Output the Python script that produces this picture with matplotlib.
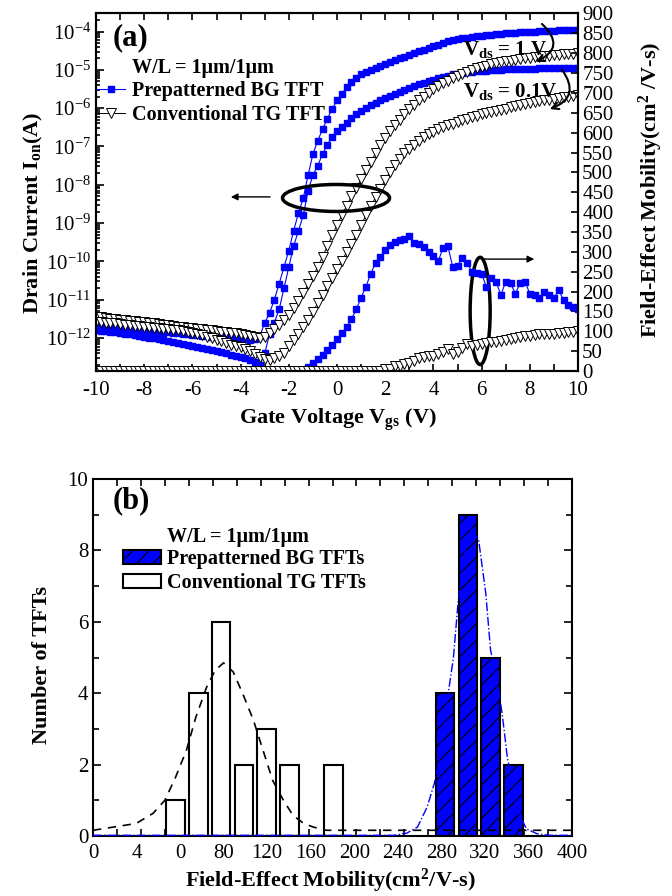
import matplotlib
matplotlib.use("Agg")
import numpy as np
import matplotlib.pyplot as plt
from matplotlib.patches import Ellipse, FancyArrowPatch, Patch
from matplotlib.lines import Line2D
from matplotlib.ticker import MultipleLocator, LogLocator, NullFormatter, FixedLocator

plt.rcParams["font.family"] = ["Liberation Serif", "DejaVu Serif"]
plt.rcParams["mathtext.fontset"] = "custom"
plt.rcParams["mathtext.rm"] = "Liberation Serif"
plt.rcParams["mathtext.bf"] = "Liberation Serif:bold"
plt.rcParams["mathtext.it"] = "Liberation Serif:italic"
plt.rcParams["axes.unicode_minus"] = False
plt.rcParams["hatch.linewidth"] = 0.8
plt.rcParams["hatch.color"] = "black"

# ---------------- panel (a): transfer curves ----------------
vgs = [-10.0, -9.8, -9.6, -9.4, -9.2, -9.0, -8.8, -8.6, -8.4, -8.2,
       -8.0, -7.8, -7.6, -7.4, -7.2, -7.0, -6.8, -6.6, -6.4, -6.2,
       -6.0, -5.8, -5.6, -5.4, -5.2, -5.0, -4.8, -4.6, -4.4, -4.2,
       -4.0, -3.8, -3.6, -3.4, -3.2, -3.0, -2.8, -2.6, -2.4, -2.2,
       -2.0, -1.8, -1.6, -1.4, -1.2, -1.0, -0.8, -0.6, -0.4, -0.2,
       0.0, 0.2, 0.4, 0.6, 0.8, 1.0, 1.2, 1.4, 1.6, 1.8,
       2.0, 2.2, 2.4, 2.6, 2.8, 3.0, 3.2, 3.4, 3.6, 3.8,
       4.0, 4.2, 4.4, 4.6, 4.8, 5.0, 5.2, 5.4, 5.6, 5.8,
       6.0, 6.2, 6.4, 6.6, 6.8, 7.0, 7.2, 7.4, 7.6, 7.8,
       8.0, 8.2, 8.4, 8.6, 8.8, 9.0, 9.2, 9.4, 9.6, 9.8,
       10.0]

# log10 of drain current (A)
bg_vds1 = [-11.72, -11.70, -11.74, -11.73, -11.76, -11.75, -11.78, -11.77, -11.80, -11.79,
           -11.82, -11.81, -11.84, -11.83, -11.86, -11.85, -11.88, -11.87, -11.90, -11.89,
           -11.92, -11.91, -11.94, -11.93, -11.96, -11.95, -11.98, -11.97, -12.00, -11.99,
           -12.02, -12.01, -12.04, -12.03, -11.95, -11.60, -11.35, -11.00, -10.58, -10.15,
           -9.72, -9.20, -8.74, -8.35, -7.75, -7.20, -6.85, -6.55, -6.28, -6.02,
           -5.80, -5.62, -5.46, -5.33, -5.21, -5.12, -5.06, -5.00, -4.96, -4.91,
           -4.86, -4.80, -4.75, -4.70, -4.66, -4.61, -4.56, -4.51, -4.47, -4.42,
           -4.38, -4.34, -4.30, -4.26, -4.23, -4.20, -4.18, -4.16, -4.14, -4.12,
           -4.11, -4.09, -4.08, -4.07, -4.06, -4.05, -4.04, -4.03, -4.02, -4.01,
           -4.00, -4.00, -3.99, -3.99, -3.98, -3.98, -3.97, -3.97, -3.97, -3.96,
           -3.96]
bg_vds01 = [-11.80, -11.82, -11.81, -11.85, -11.84, -11.88, -11.90, -11.89, -11.93, -11.95,
            -11.96, -11.99, -12.01, -12.03, -12.06, -12.08, -12.10, -12.13, -12.15, -12.18,
            -12.21, -12.23, -12.26, -12.28, -12.31, -12.34, -12.37, -12.40, -12.43, -12.46,
            -12.50, -12.53, -12.56, -12.62, -12.70, -12.40, -11.90, -11.60, -11.25, -10.70,
            -10.15, -9.60, -9.20, -8.80, -8.15, -7.75, -7.50, -7.20, -6.95, -6.75,
            -6.60, -6.50, -6.38, -6.26, -6.16, -6.07, -5.99, -5.92, -5.86, -5.80,
            -5.74, -5.68, -5.63, -5.58, -5.53, -5.48, -5.43, -5.38, -5.34, -5.30,
            -5.26, -5.22, -5.18, -5.15, -5.12, -5.10, -5.08, -5.06, -5.05, -5.04,
            -5.03, -5.02, -5.01, -5.00, -5.00, -4.99, -4.99, -4.98, -4.98, -4.97,
            -4.97, -4.97, -4.96, -4.96, -4.96, -4.96, -4.96, -4.95, -4.95, -4.95,
            -4.95]
tg_vds1 = [-11.44, -11.46, -11.47, -11.49, -11.50, -11.52, -11.53, -11.55, -11.56, -11.58,
           -11.59, -11.61, -11.62, -11.64, -11.65, -11.67, -11.68, -11.70, -11.71, -11.73,
           -11.74, -11.76, -11.77, -11.79, -11.80, -11.82, -11.83, -11.85, -11.86, -11.88,
           -11.90, -11.92, -11.94, -11.96, -12.00, -11.98, -11.88, -11.76, -11.66, -11.52,
           -11.39, -11.22, -11.03, -10.83, -10.60, -10.38, -10.15, -9.88, -9.60, -9.32,
           -9.05, -8.80, -8.55, -8.30, -8.08, -7.85, -7.62, -7.40, -7.18, -6.97,
           -6.78, -6.60, -6.45, -6.30, -6.16, -6.03, -5.91, -5.80, -5.70, -5.60,
           -5.51, -5.43, -5.35, -5.28, -5.21, -5.15, -5.10, -5.05, -5.00, -4.96,
           -4.92, -4.89, -4.86, -4.83, -4.80, -4.78, -4.76, -4.74, -4.72, -4.70,
           -4.69, -4.67, -4.66, -4.65, -4.64, -4.62, -4.61, -4.60, -4.59, -4.58,
           -4.57]
tg_vds01 = [-11.57, -11.58, -11.60, -11.61, -11.62, -11.64, -11.65, -11.66, -11.68, -11.69,
            -11.70, -11.72, -11.73, -11.74, -11.76, -11.77, -11.78, -11.80, -11.81, -11.83,
            -11.86, -11.89, -11.93, -11.96, -12.00, -12.05, -12.09, -12.13, -12.17, -12.20,
            -12.23, -12.29, -12.35, -12.42, -12.50, -12.55, -12.57, -12.53, -12.46, -12.38,
            -12.22, -12.06, -11.90, -11.72, -11.52, -11.31, -11.09, -10.87, -10.65, -10.43,
            -10.20, -9.98, -9.76, -9.54, -9.30, -9.05, -8.80, -8.56, -8.33, -8.10,
            -7.87, -7.66, -7.48, -7.32, -7.18, -7.06, -6.95, -6.85, -6.76, -6.68,
            -6.61, -6.55, -6.50, -6.45, -6.41, -6.36, -6.32, -6.28, -6.24, -6.20,
            -6.16, -6.13, -6.10, -6.07, -6.04, -6.01, -5.98, -5.95, -5.93, -5.90,
            -5.87, -5.85, -5.82, -5.80, -5.78, -5.76, -5.74, -5.72, -5.70, -5.68,
            -5.66]

# field-effect mobility (cm^2/V-s)
mu_bg = [2, 1, 2, 1, 2, 1, 2, 1, 2, 1,
         2, 1, 2, 1, 2, 1, 2, 1, 2, 1,
         2, 1, 2, 1, 2, 1, 2, 1, 2, 1,
         2, 1, 2, 1, 2, 1, 2, 1, 2, 1,
         2, 1, 2, 3, 10, 20, 29, 40, 52, 65,
         80, 95, 110, 131, 155, 185, 212, 245, 272, 287,
         305, 318, 325, 329, 333, 340, 323, 320, 312, 300,
         290, 276, 310, 314, 263, 265, 284, 272, 250, 246,
         244, 212, 234, 225, 191, 225, 221, 195, 221, 225,
         195, 191, 183, 199, 191, 183, 204, 178, 166, 160,
         155]
mu_tg = [0, 1, 0, 1, 0, 1, 0, 1, 0, 1,
         0, 1, 0, 1, 0, 1, 0, 1, 0, 1,
         0, 1, 0, 1, 0, 1, 0, 1, 0, 1,
         0, 1, 0, 1, 0, 1, 0, 1, 0, 1,
         0, 1, 0, 1, 0, 1, 0, 1, 0, 1,
         0, 1, 0, 1, 0, 1, 0, 1, 0, 1,
         6, 4, 12, 13, 17, 21, 24, 33, 34, 38,
         38, 42, 48, 55, 44, 47, 59, 68, 64, 66,
         68, 70, 72, 74, 76, 78, 81, 83, 85, 87,
         89, 91, 92, 93, 93, 94, 95, 96, 98, 99,
         100]

current_decades = [1e-12, 1e-11, 1e-10, 1e-9, 1e-8, 1e-7, 1e-6, 1e-5, 1e-4]

# ---------------- panel (b): histogram ----------------
tg_bins = [69, 88, 107, 126, 145, 164, 201]
tg_counts = [1, 4, 6, 2, 3, 2, 2]
bg_bins = [294, 313, 332, 351]
bg_counts = [4, 9, 5, 2]

tg_fit_x = [0, 36, 50, 60, 69, 78, 86, 95, 102, 109, 117, 125, 134, 142,
            150, 159, 167, 176, 184, 195, 400]
tg_fit_y = [0.16, 0.35, 0.63, 1.0, 1.65, 2.4, 3.34, 4.18, 4.64, 4.85, 4.6, 3.99, 3.24, 2.4,
            1.56, 1.0, 0.58, 0.35, 0.25, 0.16, 0.16]
bg_fit_x = [0, 100, 191, 238, 251, 262, 271, 279, 285, 289, 293, 297, 301, 305,
            311, 316, 322, 328, 332, 338, 342, 346, 352, 357, 362, 371, 381, 400]
bg_fit_y = [0.02, 0.02, 0.02, 0.02, 0.02, 0.08, 0.25, 0.81, 1.47, 2.1, 3.05, 4.08, 5.0, 6.6,
            8.0, 8.6, 8.3, 6.8, 5.2, 4.27, 3.34, 2.2, 1.19, 0.53, 0.2, 0.06, 0.02, 0.02]

mob_tick_labels = ["0", "4", "0", "80", "120", "160", "200", "240", "280", "320", "360", "400"]

BLUE = "#0000ff"
W, H = 672, 896

fig = plt.figure(figsize=(6.72, 8.96), dpi=100)


def fx(px):
    return px / W


def fy(py):
    return 1 - py / H


# ---- top panel ----
ax1 = fig.add_axes([fx(96), fy(371), fx(578) - fx(96), fy(13.5) - fy(371)])
ax1.set_yscale("log")
for series in (bg_vds1, bg_vds01):
    ax1.plot(vgs, 10 ** np.array(series), color=BLUE, marker="s", ms=5, mec=BLUE, lw=0.8)
for series in (tg_vds1, tg_vds01):
    ax1.plot(vgs, 10 ** np.array(series), color="black", marker="v", ms=6.5,
             mfc="white", mec="black", mew=0.7, lw=0.7)
ax1.set_xlim(-10, 10)
ax1.set_ylim(10 ** -12.86, 10 ** -3.53)
ax1.xaxis.set_major_locator(MultipleLocator(2))
ax1.xaxis.set_minor_locator(MultipleLocator(1))
ax1.yaxis.set_major_locator(FixedLocator(current_decades))
ax1.yaxis.set_minor_locator(LogLocator(base=10, subs=np.arange(2, 10) * 1.0, numticks=20))
ax1.yaxis.set_minor_formatter(NullFormatter())
ax1.tick_params(which="both", direction="in", top=True, right=False, labelsize=15, width=1.2)
ax1.tick_params(axis="x", which="both", length=5, pad=7)
ax1.tick_params(axis="y", which="major", length=6)
ax1.tick_params(axis="y", which="minor", length=3)

ax2 = ax1.twinx()
ax2.plot(vgs, mu_bg, color=BLUE, marker="s", ms=5, mec=BLUE, lw=0.8)
ax2.plot(vgs, mu_tg, color="black", marker="v", ms=6.5, mfc="white", mec="black", mew=0.7, lw=0.7)
ax2.set_ylim(0, 900)
ax2.yaxis.set_major_locator(MultipleLocator(50))
ax2.tick_params(which="both", direction="in", labelsize=15, width=1.2, length=5, pad=3)
for ax in (ax1, ax2):
    for s in ax.spines.values():
        s.set_linewidth(1.5)

# annotations
ax2.add_patch(Ellipse((0.498, 0.484), 0.222, 0.0755, transform=ax2.transAxes,
                      fill=False, lw=2.5, ec="black"))
ax2.add_patch(Ellipse((0.797, 0.168), 0.0415, 0.30, transform=ax2.transAxes,
                      fill=False, lw=2.5, ec="black"))
ax2.add_patch(FancyArrowPatch((0.367, 0.487), (0.274, 0.487), transform=ax2.transAxes,
                              arrowstyle="-|>", mutation_scale=10, lw=1, color="black"))
ax2.add_patch(FancyArrowPatch((0.797, 0.313), (0.915, 0.313), transform=ax2.transAxes,
                              arrowstyle="-|>", mutation_scale=10, lw=1, color="black"))
ax2.add_patch(FancyArrowPatch((0.921, 0.976), (0.907, 0.862), transform=ax2.transAxes,
                              connectionstyle="arc3,rad=-0.8", arrowstyle="->",
                              mutation_scale=12, lw=1.5, color="black"))
ax2.add_patch(FancyArrowPatch((0.963, 0.850), (0.936, 0.730), transform=ax2.transAxes,
                              connectionstyle="arc3,rad=-0.7", arrowstyle="->",
                              mutation_scale=12, lw=1.5, color="black"))

fig.text(fx(463), fy(50), r"V$_\mathbf{ds}$ = 1 V", fontsize=15, fontweight="bold",
         ha="left", va="center")
fig.text(fx(463), fy(92), r"V$_\mathbf{ds}$ = 0.1V", fontsize=15, fontweight="bold",
         ha="left", va="center")
fig.text(fx(131), fy(38), "(a)", fontsize=22, fontweight="bold", ha="center", va="center")
fig.text(fx(132), fy(68), "W/L = 1μm/1μm", fontsize=14.5, fontweight="bold",
         ha="left", va="center")

handles_a = [Line2D([], [], color=BLUE, marker="s", ms=5, mec=BLUE, lw=0.8),
             Line2D([], [], color="black", marker="v", ms=6.5, mfc="white", mec="black",
                    mew=0.7, lw=0.7)]
ax1.legend(handles_a, ["Prepatterned BG TFT", "Conventional TG TFT"],
           loc="upper left", bbox_to_anchor=(fx(97), fy(81)), bbox_transform=fig.transFigure,
           frameon=False, borderpad=0, borderaxespad=0, handlelength=1.4,
           handletextpad=0.35, labelspacing=0.2, prop={"size": 14.5, "weight": "bold"})

fig.text(fx(33), fy(213), r"Drain Current I$_\mathbf{on}$(A)", fontsize=16,
         fontweight="bold", rotation=90, ha="center", va="center")
fig.text(fx(651), fy(190), r"Field-Effect Mobility(cm$^\mathbf{2}$ /V-s)", fontsize=16,
         fontweight="bold", rotation=90, ha="center", va="center")
fig.text(fx(338), fy(420), r"Gate Voltage V$_\mathbf{gs}$ (V)", fontsize=16,
         fontweight="bold", ha="center", va="center")

# ---- bottom panel ----
ax3 = fig.add_axes([fx(93), fy(836), fx(572) - fx(93), fy(479) - fy(836)])
ax3.bar(tg_bins, tg_counts, width=15.5, color="white", edgecolor="black", lw=1.5, zorder=2)
ax3.bar(bg_bins, bg_counts, width=15.5, color=BLUE, edgecolor="black", lw=1.5,
        hatch="//", zorder=2)
ax3.plot(tg_fit_x, tg_fit_y, color="black", ls=(0, (5, 4)), lw=1.2, zorder=3)
ax3.plot(bg_fit_x, bg_fit_y, color=BLUE, ls="-.", lw=1, zorder=3)
ax3.set_xlim(0, 400)
ax3.set_ylim(0, 10)
ax3.xaxis.set_major_locator(FixedLocator(np.linspace(0, 400, len(mob_tick_labels))))
ax3.set_xticklabels(mob_tick_labels)
ax3.xaxis.set_minor_locator(MultipleLocator(20))
ax3.yaxis.set_major_locator(MultipleLocator(2))
ax3.yaxis.set_minor_locator(MultipleLocator(1))
ax3.tick_params(which="both", direction="in", top=True, right=True, labelsize=15, width=1.2)
ax3.tick_params(axis="x", which="major", length=0, pad=6)
ax3.tick_params(axis="x", which="minor", length=5)
ax3.tick_params(axis="y", which="major", length=6)
ax3.tick_params(axis="y", which="minor", length=4)
for s in ax3.spines.values():
    s.set_linewidth(1.5)

fig.text(fx(131), fy(501), "(b)", fontsize=22, fontweight="bold", ha="center", va="center")
fig.text(fx(167), fy(537), "W/L = 1μm/1μm", fontsize=14.5, fontweight="bold",
         ha="left", va="center")
handles_b = [Patch(facecolor=BLUE, edgecolor="black", hatch="//", lw=1.5),
             Patch(facecolor="white", edgecolor="black", lw=1.5)]
ax3.legend(handles_b, ["Prepatterned BG TFTs", "Conventional TG TFTs"],
           loc="upper left", bbox_to_anchor=(fx(123), fy(549)), bbox_transform=fig.transFigure,
           frameon=False, borderpad=0, borderaxespad=0, handlelength=1.9, handleheight=0.75,
           handletextpad=0.3, labelspacing=0.2, prop={"size": 14.5, "weight": "bold"})

fig.text(fx(42), fy(665), "Number of TFTs", fontsize=16, fontweight="bold",
         rotation=90, ha="center", va="center")
fig.text(fx(330), fy(881), r"Field-Effect Mobility(cm$^\mathbf{2}$/V-s)", fontsize=16,
         fontweight="bold", ha="center", va="center")

fig.savefig("out.png", dpi=100)
